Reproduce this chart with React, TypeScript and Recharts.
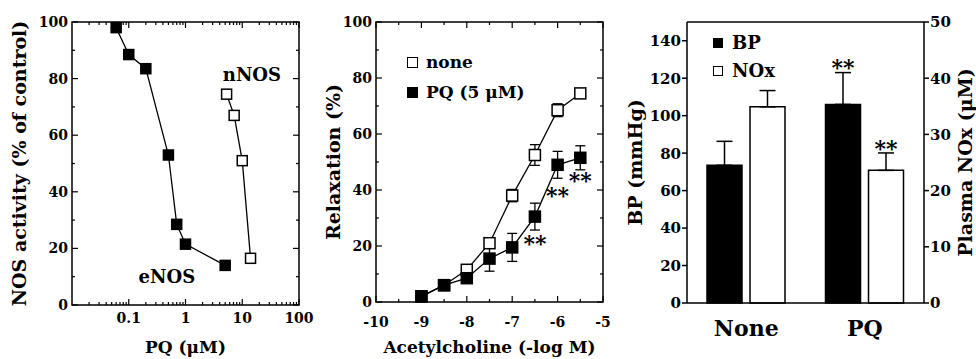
import React from 'react';
import {
  ComposedChart,
  BarChart,
  Line,
  Bar,
  Scatter,
  XAxis,
  YAxis,
  ReferenceArea,
  ReferenceLine,
  ErrorBar,
  Legend,
  LabelList,
} from 'recharts';

const FONT = '"DejaVu Serif"';

// ---- Panel A: NOS activity vs PQ concentration
const enosDose = [0.06, 0.1, 0.2, 0.5, 0.7, 1, 5];
const enosActivity = [98, 88.5, 83.5, 53, 28.5, 21.5, 14];
const nnosDose = [5.3, 7.2, 10, 14];
const nnosActivity = [74.5, 67, 51, 16.5];
const doseMajor = [0.1, 1, 10, 100];
const doseTicks = [
  0.02, 0.03, 0.04, 0.05, 0.06, 0.07, 0.08, 0.09, 0.1,
  0.2, 0.3, 0.4, 0.5, 0.6, 0.7, 0.8, 0.9, 1,
  2, 3, 4, 5, 6, 7, 8, 9, 10,
  20, 30, 40, 50, 60, 70, 80, 90, 100,
];
const activityTicks = [0, 10, 20, 30, 40, 50, 60, 70, 80, 90, 100];
const activityMajor = [0, 20, 40, 60, 80, 100];
const panelANotes = [
  { x: 14.8, y: 81.3, text: 'nNOS' },
  { x: 0.47, y: 9.9, text: 'eNOS' },
];

// ---- Panel B: relaxation vs acetylcholine
const achDose = [-9, -8.5, -8, -7.5, -7, -6.5, -6, -5.5];
const noneRelax = [2, 6, 11.5, 21, 38, 52.5, 68.5, 74.5];
const noneErr = [0.5, 1, 1, 1.5, 2.2, 3.7, 2.3, 1];
const pqRelax = [2, 6, 8.5, 15.5, 19.5, 30.5, 49, 51.5];
const pqErr = [0.5, 1, 1.5, 4.5, 5, 4.8, 4.8, 4.3];
const achTicks = [-10, -9.5, -9, -8.5, -8, -7.5, -7, -6.5, -6, -5.5, -5];
const achMajor = [-10, -9, -8, -7, -6, -5];
const relaxTicks = [0, 10, 20, 30, 40, 50, 60, 70, 80, 90, 100];
const relaxMajor = [0, 20, 40, 60, 80, 100];
const relaxStars = [
  { x: -6.5, y: 22, text: '**' },
  { x: -6, y: 39.3, text: '**' },
  { x: -5.5, y: 44.7, text: '**' },
];

// ---- Panel C: BP and plasma NOx
const groups = ['None', 'PQ'];
const bpValues = [73.5, 106];
const bpErr = [12.8, 17];
const noxValues = [34.9, 23.6];
const noxErr = [2.9, 3.1];
const bpStars = ['', '**'];
const noxStars = ['', '**'];
const bpTicks = [0, 20, 40, 60, 80, 100, 120, 140];
const noxTicks = [0, 10, 20, 30, 40, 50];

const enosData = enosDose.map((x, i) => ({ x, y: enosActivity[i] }));
const nnosData = nnosDose.map((x, i) => ({ x, y: nnosActivity[i] }));
const noneData = achDose.map((x, i) => ({ x, y: noneRelax[i], err: noneErr[i] }));
const pqData = achDose.map((x, i) => ({ x, y: pqRelax[i], err: pqErr[i] }));
const barData = groups.map((group, i) => ({
  group,
  bp: bpValues[i],
  bpErr: [0, bpErr[i]],
  bpStar: bpStars[i],
  nox: noxValues[i],
  noxErr: [0, noxErr[i]],
  noxStar: noxStars[i],
}));

const txt = (size: number) => ({ fontFamily: FONT, fontWeight: 700, fontSize: size, fill: '#000' });

// x ticks drawn inward at bottom and mirrored on top of the frame
const xTick = (plotH: number, majors: number[], labelOffset: number, size: number) => (props: any) => {
  const { x, y, payload } = props;
  const v = payload.value;
  const major = majors.includes(v);
  const len = major ? 6 : 3;
  return (
    <g>
      <line x1={x} x2={x} y1={y} y2={y - len} stroke="#000" strokeWidth={1.2} />
      <line x1={x} x2={x} y1={y - plotH} y2={y - plotH + len} stroke="#000" strokeWidth={1.2} />
      {major && (
        <text x={x} y={y + labelOffset} dy="0.36em" textAnchor="middle" style={txt(size)}>
          {String(v)}
        </text>
      )}
    </g>
  );
};

const yTick = (plotW: number, majors: number[], size: number) => (props: any) => {
  const { x, y, payload } = props;
  const v = payload.value;
  const major = majors.includes(v);
  const len = major ? 6 : 3;
  return (
    <g>
      <line x1={x} x2={x + len} y1={y} y2={y} stroke="#000" strokeWidth={1.2} />
      <line x1={x + plotW} x2={x + plotW - len} y1={y} y2={y} stroke="#000" strokeWidth={1.2} />
      {major && (
        <text x={x - 4} y={y} dy="0.36em" textAnchor="end" style={txt(size)}>
          {String(v)}
        </text>
      )}
    </g>
  );
};

// outward ticks for the bar panel
const sideTick = (side: 'left' | 'right') => (props: any) => {
  const { x, y, payload } = props;
  const dir = side === 'left' ? -1 : 1;
  return (
    <g>
      <line x1={x} x2={x + dir * 5} y1={y} y2={y} stroke="#000" strokeWidth={1.5} />
      <text x={x + dir * 6} y={y} dy="0.36em" textAnchor={side === 'left' ? 'end' : 'start'} style={txt(15)}>
        {String(payload.value)}
      </text>
    </g>
  );
};

const VTitle = ({ viewBox, text, dx, size }: any) => {
  const vb = viewBox || { x: 0, y: 0, width: 0, height: 0 };
  const cx = vb.x + dx;
  const cy = vb.y + vb.height / 2;
  return (
    <text x={cx} y={cy} dy="0.36em" transform={`rotate(-90 ${cx} ${cy})`} textAnchor="middle" style={txt(size)}>
      {text}
    </text>
  );
};

const HTitle = ({ viewBox, text, dy, size }: any) => {
  const vb = viewBox || { x: 0, y: 0, width: 0, height: 0 };
  const cx = vb.x + vb.width / 2;
  return (
    <text x={cx} y={vb.y + dy} dy="0.36em" textAnchor="middle" style={txt(size)}>
      {text}
    </text>
  );
};

const square = (filled: boolean, size: number) => (props: any) => {
  const { cx, cy, index } = props;
  if (cx == null || cy == null) return <g key={index} />;
  return (
    <rect
      key={index}
      x={cx - size / 2}
      y={cy - size / 2}
      width={size}
      height={size}
      fill={filled ? '#000' : '#fff'}
      stroke="#000"
      strokeWidth={1.5}
    />
  );
};

const textShape = (size: number, dy: string) => (props: any) => {
  const { cx, cy, payload } = props;
  return (
    <text x={cx} y={cy} dy={dy} textAnchor="middle" style={txt(size)}>
      {payload.text}
    </text>
  );
};

const legendBox = (items: { label: string; filled: boolean }[], box: number, gap: number, rowH: number, size: number) => () => (
  <div style={{ fontFamily: FONT, fontWeight: 700, fontSize: size, lineHeight: 1 }}>
    {items.map((it) => (
      <div key={it.label} style={{ display: 'flex', alignItems: 'center', height: rowH, whiteSpace: 'nowrap' }}>
        <span
          style={{
            display: 'inline-block',
            width: box,
            height: box,
            boxSizing: 'border-box',
            border: '1.5px solid #000',
            background: it.filled ? '#000' : '#fff',
            marginRight: gap,
          }}
        />
        <span>{it.label}</span>
      </div>
    ))}
  </div>
);

const PanelA = () => (
  <ComposedChart width={330} height={359} margin={{ top: 22, right: 31, left: 0, bottom: 0 }}>
    <XAxis
      type="number"
      dataKey="x"
      scale="log"
      domain={[0.01, 100]}
      allowDataOverflow
      ticks={doseTicks}
      interval={0}
      height={54}
      tickSize={0}
      tickMargin={0}
      tickLine={false}
      axisLine={false}
      tick={xTick(283, doseMajor, 13, 14)}
      label={<HTitle text="PQ (μM)" dy={42} size={17} />}
    />
    <YAxis
      type="number"
      dataKey="y"
      domain={[0, 100]}
      ticks={activityTicks}
      interval={0}
      width={72}
      tickSize={0}
      tickMargin={0}
      tickLine={false}
      axisLine={false}
      tick={yTick(227, activityMajor, 14)}
      label={<VTitle text="NOS activity (% of control)" dx={19} size={19} />}
    />
    <ReferenceArea x1={0.01} x2={100} y1={0} y2={100} fill="none" stroke="#000" strokeWidth={1.5} />
    <Line data={enosData} dataKey="y" stroke="#000" strokeWidth={1.3} dot={square(true, 10)} isAnimationActive={false} />
    <Line data={nnosData} dataKey="y" stroke="#000" strokeWidth={1.3} dot={square(false, 10)} isAnimationActive={false} />
    <Scatter data={panelANotes} dataKey="y" shape={textShape(18, '0.36em')} isAnimationActive={false} />
  </ComposedChart>
);

const PanelB = () => (
  <ComposedChart width={305} height={359} margin={{ top: 22, right: 12, left: 0, bottom: 0 }}>
    <XAxis
      type="number"
      dataKey="x"
      domain={[-10, -5]}
      allowDataOverflow
      ticks={achTicks}
      interval={0}
      height={57}
      tickSize={0}
      tickMargin={0}
      tickLine={false}
      axisLine={false}
      tick={xTick(280, achMajor, 20, 14)}
      label={<HTitle text="Acetylcholine (-log M)" dy={45} size={17} />}
    />
    <YAxis
      type="number"
      dataKey="y"
      domain={[0, 100]}
      ticks={relaxTicks}
      interval={0}
      width={66}
      tickSize={0}
      tickMargin={0}
      tickLine={false}
      axisLine={false}
      tick={yTick(227, relaxMajor, 14)}
      label={<VTitle text="Relaxation (%)" dx={23} size={19} />}
    />
    <ReferenceArea x1={-10} x2={-5} y1={0} y2={100} fill="none" stroke="#000" strokeWidth={1.5} />
    <Legend
      layout="vertical"
      align="center"
      verticalAlign="middle"
      wrapperStyle={{ left: 97, top: 47, width: 'auto', height: 'auto' }}
      content={legendBox(
        [
          { label: 'none', filled: false },
          { label: 'PQ (5 μM)', filled: true },
        ],
        11,
        8,
        30,
        17,
      )}
    />
    <Line data={noneData} dataKey="y" name="none" stroke="#000" strokeWidth={1.3} dot={square(false, 11)} isAnimationActive={false}>
      <ErrorBar dataKey="err" width={5} stroke="#000" strokeWidth={1.3} />
    </Line>
    <Line data={pqData} dataKey="y" name="PQ" stroke="#000" strokeWidth={1.3} dot={square(true, 11)} isAnimationActive={false}>
      <ErrorBar dataKey="err" width={5} stroke="#000" strokeWidth={1.3} />
    </Line>
    <Scatter data={relaxStars} dataKey="y" shape={textShape(22, '0.5em')} isAnimationActive={false} />
  </ComposedChart>
);

const starContent = (valueKey: 'bp' | 'nox', errIdx: 'bpErr' | 'noxErr') => (props: any) => {
  const { value, index } = props;
  if (!value) return null;
  const vb = props.viewBox || props;
  const d = barData[index];
  const pxPerUnit = Math.abs(vb.height) / d[valueKey];
  const top = Math.min(vb.y, vb.y + vb.height) - d[errIdx][1] * pxPerUnit;
  return (
    <text x={vb.x + vb.width / 2} y={top} dy="0.12em" textAnchor="middle" style={txt(22)}>
      {value}
    </text>
  );
};

const PanelC = () => (
  <BarChart width={356} height={359} data={barData} margin={{ top: 22, right: 0, left: 0, bottom: 0 }} barSize={35} barGap={8}>
    <XAxis
      dataKey="group"
      height={56}
      tickLine={false}
      axisLine={{ stroke: '#000', strokeWidth: 1.5 }}
      tick={(p: any) => (
        <text x={p.x} y={p.y + 25} dy="0.36em" textAnchor="middle" style={txt(22)}>
          {p.payload.value}
        </text>
      )}
      tickSize={0}
      tickMargin={0}
    />
    <YAxis
      yAxisId="bp"
      domain={[0, 150]}
      ticks={bpTicks}
      interval={0}
      width={67}
      tickSize={0}
      tickMargin={0}
      tickLine={false}
      axisLine={{ stroke: '#000', strokeWidth: 1.5 }}
      tick={sideTick('left')}
      label={<VTitle text="BP (mmHg)" dx={15} size={19} />}
    />
    <YAxis
      yAxisId="nox"
      orientation="right"
      domain={[0, 50]}
      ticks={noxTicks}
      interval={0}
      width={52}
      tickSize={0}
      tickMargin={0}
      tickLine={false}
      axisLine={{ stroke: '#000', strokeWidth: 1.5 }}
      tick={sideTick('right')}
      label={<VTitle text="Plasma NOx (μM)" dx={41} size={19} />}
    />
    <ReferenceLine yAxisId="bp" y={150} stroke="#000" strokeWidth={1.5} />
    <Legend
      layout="vertical"
      align="center"
      verticalAlign="middle"
      wrapperStyle={{ left: 93, top: 29, width: 'auto', height: 'auto' }}
      content={legendBox(
        [
          { label: 'BP', filled: true },
          { label: 'NOx', filled: false },
        ],
        10,
        9,
        28,
        18,
      )}
    />
    <Bar dataKey="bp" yAxisId="bp" fill="#000" stroke="#000" strokeWidth={1.5} isAnimationActive={false}>
      <ErrorBar dataKey="bpErr" width={8} stroke="#000" strokeWidth={1.5} />
      <LabelList dataKey="bpStar" content={starContent('bp', 'bpErr')} />
    </Bar>
    <Bar dataKey="nox" yAxisId="nox" fill="#fff" stroke="#000" strokeWidth={1.5} isAnimationActive={false}>
      <ErrorBar dataKey="noxErr" width={8} stroke="#000" strokeWidth={1.5} />
      <LabelList dataKey="noxStar" content={starContent('nox', 'noxErr')} />
    </Bar>
  </BarChart>
);

export default function App() {
  return (
    <div style={{ position: 'absolute', left: 0, top: 0, width: 976, height: 359, background: '#fff' }}>
      <div style={{ position: 'absolute', left: 0, top: 0 }}>
        <PanelA />
      </div>
      <div style={{ position: 'absolute', left: 310, top: 0 }}>
        <PanelB />
      </div>
      <div style={{ position: 'absolute', left: 620, top: 0 }}>
        <PanelC />
      </div>
    </div>
  );
}
